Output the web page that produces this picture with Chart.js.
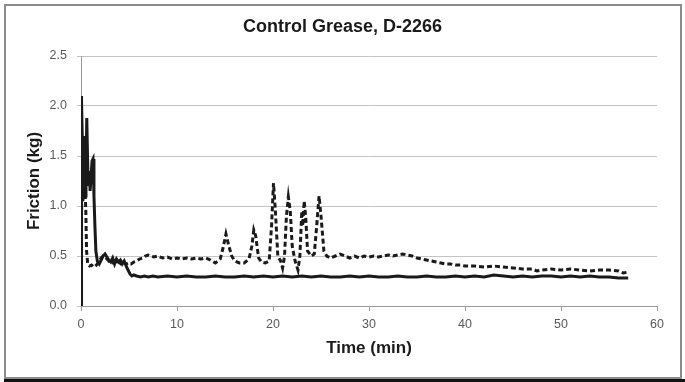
<!DOCTYPE html>
<html>
<head>
<meta charset="utf-8">
<script src="https://cdn.jsdelivr.net/npm/chart.js@4.4.1/dist/chart.umd.min.js"></script>
<style>
  html, body { margin: 0; padding: 0; background: #ffffff; }
  #wrap { position: relative; width: 685px; height: 382px; overflow: hidden; }
  #c { position: absolute; left: 0; top: 0; }
  #frame { position: absolute; left: 4px; top: 4px; width: 674px; height: 371px; border: 2px solid #8c8c8c; pointer-events: none; }
  #base { position: absolute; left: 4px; top: 379px; width: 681px; height: 3px; background: #111; pointer-events: none; }
</style>
</head>
<body>
<div id="wrap">
  <canvas id="c" width="685" height="382"></canvas>
  <div id="frame"></div>
  <div id="base"></div>
</div>
<script>
const chartTitle = "Control Grease, D-2266";
const xAxisTitle = "Time (min)";
const yAxisTitle = "Friction (kg)";
const xTicks = [0, 10, 20, 30, 40, 50, 60];
const yTicks = [0.0, 0.5, 1.0, 1.5, 2.0, 2.5];

// Solid series
const solidTime = [0, 0.03, 0.08, 0.15, 0.22, 0.3, 0.38, 0.45, 0.52, 0.6, 0.68, 0.75, 0.85, 0.95, 1.05, 1.15, 1.25, 1.35, 1.45, 1.55, 1.7, 1.9, 2.1, 2.3, 2.5, 2.7, 2.9, 3.1, 3.3, 3.5, 3.7, 3.9, 4.1, 4.3, 4.5, 4.7, 4.9, 5.1, 5.3, 5.5, 5.8, 6.2, 6.6, 7, 7.5, 8, 9, 10, 11, 12, 13, 14, 15, 16, 17, 18, 19, 20, 21, 22, 23, 24, 25, 26, 27, 28, 29, 30, 31, 32, 33, 34, 35, 36, 37, 38, 39, 40, 41, 42, 43, 44, 45, 46, 47, 48, 49, 50, 51, 52, 53, 54, 55, 56, 57];
const solidFriction = [0, 2.1, 2.05, 1.6, 1.2, 1.7, 1.45, 1.1, 1.3, 1.88, 1.5, 1.2, 1.35, 1.15, 1.3, 1.45, 1.47, 1.1, 0.8, 0.55, 0.45, 0.42, 0.46, 0.5, 0.52, 0.49, 0.46, 0.44, 0.48, 0.42, 0.47, 0.44, 0.46, 0.42, 0.45, 0.4, 0.36, 0.32, 0.3, 0.31, 0.3, 0.29, 0.3, 0.29, 0.3, 0.29, 0.3, 0.29, 0.3, 0.29, 0.29, 0.3, 0.29, 0.29, 0.3, 0.29, 0.3, 0.29, 0.3, 0.29, 0.3, 0.29, 0.3, 0.29, 0.29, 0.3, 0.29, 0.3, 0.29, 0.29, 0.3, 0.29, 0.29, 0.3, 0.29, 0.29, 0.3, 0.29, 0.3, 0.29, 0.31, 0.3, 0.29, 0.3, 0.29, 0.3, 0.3, 0.29, 0.3, 0.29, 0.3, 0.29, 0.29, 0.28, 0.28];

// Dashed series
const dashedTime = [0, 0.05, 0.12, 0.2, 0.28, 0.35, 0.42, 0.5, 0.58, 0.7, 0.9, 1.1, 1.3, 1.5, 1.7, 1.9, 2.1, 2.3, 2.5, 2.7, 2.9, 3.1, 3.3, 3.5, 3.7, 3.9, 4.1, 4.3, 4.5, 4.7, 4.9, 5.2, 5.5, 5.8, 6.1, 6.4, 6.7, 7, 7.3, 7.6, 8, 8.5, 9, 9.5, 10, 10.5, 11, 11.5, 12, 12.5, 13, 13.5, 14, 14.5, 14.8, 15.1, 15.4, 15.7, 16, 16.5, 17, 17.5, 17.8, 18.0, 18.2, 18.5, 18.8, 19.2, 19.6, 19.85, 20.05, 20.25, 20.5, 20.8, 21.0, 21.2, 21.4, 21.6, 21.8, 22.0, 22.3, 22.6, 22.8, 23.0, 23.1, 23.25, 23.4, 23.6, 24.0, 24.3, 24.55, 24.8, 25.0, 25.3, 25.6, 26, 26.5, 27, 27.5, 28, 28.5, 29, 29.5, 30, 30.5, 31, 31.5, 32, 32.5, 33, 33.5, 34, 34.5, 35, 35.5, 36, 36.5, 37, 37.5, 38, 38.5, 39, 39.5, 40, 41, 42, 43, 44, 45, 46, 47, 47.5, 48, 49, 50, 51, 52, 53, 54, 55, 56, 56.5, 57];
const dashedFriction = [0, 0.9, 1.25, 1.05, 1.3, 1.1, 1.2, 0.95, 0.55, 0.42, 0.4, 0.41, 0.39, 0.4, 0.42, 0.45, 0.48, 0.5, 0.49, 0.47, 0.45, 0.47, 0.44, 0.48, 0.45, 0.47, 0.43, 0.46, 0.44, 0.42, 0.43, 0.42, 0.44, 0.45, 0.47, 0.48, 0.5, 0.51, 0.5, 0.49, 0.5, 0.48, 0.49, 0.47, 0.48, 0.47, 0.48, 0.47, 0.48, 0.47, 0.48, 0.46, 0.43, 0.47, 0.58, 0.72, 0.6, 0.5, 0.45, 0.43, 0.43, 0.47, 0.6, 0.76, 0.7, 0.48, 0.44, 0.43, 0.45, 0.8, 1.23, 0.95, 0.5, 0.45, 0.38, 0.5, 0.9, 1.09, 0.95, 0.6, 0.45, 0.36, 0.5, 0.95, 0.8, 1.05, 0.9, 0.55, 0.5, 0.52, 0.8, 1.1, 0.9, 0.55, 0.5, 0.48, 0.5, 0.52, 0.5, 0.48, 0.5, 0.48, 0.5, 0.49, 0.5, 0.49, 0.5, 0.51, 0.5, 0.51, 0.52, 0.51, 0.5, 0.48, 0.47, 0.46, 0.45, 0.44, 0.43, 0.42, 0.42, 0.41, 0.41, 0.4, 0.4, 0.39, 0.4, 0.39, 0.38, 0.37, 0.37, 0.35, 0.36, 0.37, 0.36, 0.37, 0.36, 0.35, 0.36, 0.36, 0.35, 0.33, 0.34];

const toPoints = (xs, ys) => xs.map((x, i) => ({ x: x, y: ys[i] }));

const sans = "'Liberation Sans', Arial, sans-serif";

new Chart(document.getElementById('c'), {
  type: 'line',
  data: {
    datasets: [
      {
        label: 'Solid',
        data: toPoints(solidTime, solidFriction),
        borderColor: '#1a1a1a',
        borderWidth: 3,
        pointRadius: 0,
        tension: 0,
        fill: false
      },
      {
        label: 'Dashed',
        data: toPoints(dashedTime, dashedFriction),
        borderColor: '#1a1a1a',
        borderWidth: 3,
        borderDash: [5, 3],
        pointRadius: 0,
        tension: 0,
        fill: false
      }
    ]
  },
  options: {
    responsive: false,
    animation: false,
    layout: { padding: { left: 28, right: 28, top: 0, bottom: 0 } },
    plugins: {
      legend: { display: false },
      tooltip: { enabled: false },
      title: {
        display: true,
        text: chartTitle,
        color: '#1a1a1a',
        font: { family: sans, size: 18, weight: 'bold', lineHeight: 1.2 },
        padding: { top: 16, bottom: 18.4 }
      }
    },
    scales: {
      x: {
        type: 'linear',
        min: 0,
        max: 60,
        afterBuildTicks: s => { s.ticks = xTicks.map(v => ({ value: v })); },
        afterFit: s => { s.height = 76; },
        ticks: {
          color: '#595959',
          font: { family: sans, size: 12.5 },
          padding: 6,
          maxRotation: 0,
          autoSkip: false
        },
        grid: { drawOnChartArea: false, drawTicks: true, tickLength: 5, color: '#9a9a9a' },
        border: { color: '#9a9a9a', width: 1 },
        title: {
          display: true,
          text: xAxisTitle,
          color: '#1a1a1a',
          font: { family: sans, size: 17, weight: 'bold', lineHeight: 1.2 },
          padding: { top: 0, bottom: 23.5 }
        }
      },
      y: {
        type: 'linear',
        min: 0,
        max: 2.5,
        afterBuildTicks: s => { s.ticks = yTicks.map(v => ({ value: v })); },
        afterFit: s => { s.width = 53; },
        ticks: {
          color: '#595959',
          font: { family: sans, size: 12.5 },
          padding: 10,
          callback: v => Number(v).toFixed(1)
        },
        grid: { color: '#c4c4c4', lineWidth: 1, drawTicks: true, tickLength: 4 },
        border: { color: '#9a9a9a', width: 1 },
        title: {
          display: true,
          text: yAxisTitle,
          color: '#1a1a1a',
          font: { family: sans, size: 17, weight: 'bold', lineHeight: 1.2 },
          padding: { top: -4, bottom: 0 }
        }
      }
    }
  }
});
</script>
</body>
</html>
